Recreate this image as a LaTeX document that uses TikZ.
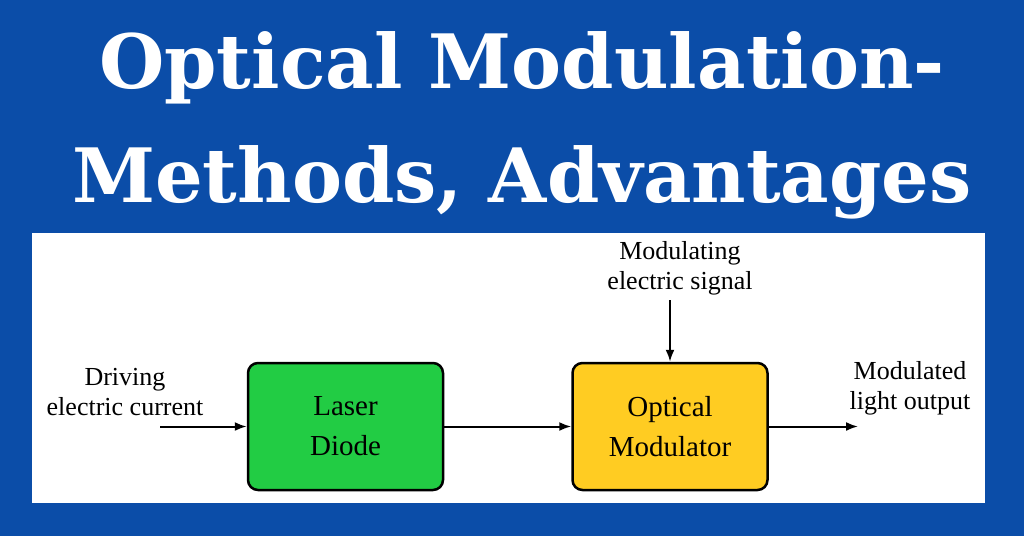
\documentclass[tikz,border=0pt]{standalone}
\usepackage{fontspec}
\setmainfont{Liberation Serif}
\newfontfamily\titlefont{DejaVu Serif}
\usetikzlibrary{positioning,arrows.meta}
\definecolor{bgblue}{HTML}{0B4DA8}
\definecolor{lasergreen}{HTML}{22CC44}
\definecolor{modyellow}{HTML}{FFCC22}
\tikzset{
  blockbox/.style={draw=black, line width=2.5pt, rounded corners=10pt, minimum width=195pt, minimum height=127pt, align=center, font=\fontsize{29}{40}\selectfont},
  sidelabel/.style={align=center, font=\fontsize{26}{30}\selectfont},
  flow/.style={-{Latex[length=12pt,width=9pt]}, line width=2pt},
  titletext/.style={text=white, font=\titlefont\bfseries\fontsize{75}{90}\selectfont}
}
\begin{document}
\begin{tikzpicture}[x=1pt,y=-1pt]
\fill[bgblue] (0,0) rectangle (1024,536);
\fill[white] (32,233) rectangle (985,503);
\node[titletext] (title1) at (522,68) {Optical Modulation-};
\node[titletext] (title2) at (522,182) {Methods, Advantages};
\node[blockbox, fill=lasergreen] (laser) at (345.5,426.5) {Laser\\Diode};
\node[blockbox, fill=modyellow] (modulator) at (670,426.5) {Optical\\Modulator};
\node[sidelabel] (drive) at (125,392) {Driving\\electric current};
\node[sidelabel] (signal) at (680,268) {Modulating\\electric signal};
\node[sidelabel] (output) at (910,388) {Modulated\\light output};
\coordinate (drivein) at (160,426.5);
\coordinate (outend) at (858,426.5);
\draw[flow] (drivein) -- (laser.west);
\draw[flow] (laser.east) -- (modulator.west);
\draw[flow] (modulator.east) -- (outend);
\draw[flow] (modulator.north |- 0,300) -- (modulator.north);
\end{tikzpicture}
\end{document}
